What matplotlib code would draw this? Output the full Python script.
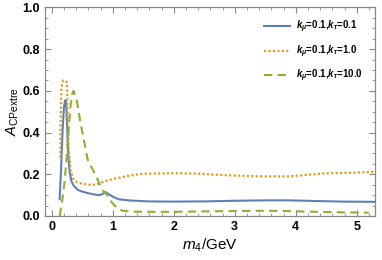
import matplotlib
matplotlib.use("Agg")
import matplotlib.pyplot as plt
from matplotlib.ticker import MultipleLocator

plt.rcParams['font.family'] = ['Liberation Sans', 'DejaVu Sans']
plt.rcParams['mathtext.fontset'] = 'custom'
plt.rcParams['mathtext.rm'] = 'Liberation Sans'
plt.rcParams['mathtext.it'] = 'Liberation Sans:italic'
plt.rcParams['mathtext.bf'] = 'Liberation Sans:bold'
plt.rcParams['mathtext.bfit'] = 'Liberation Sans:italic:bold'

# series 1: k_mu=0.1, k_tau=0.1
x_blue = [0.13, 0.15, 0.18, 0.20, 0.22, 0.235, 0.25, 0.27, 0.29, 0.32, 0.36, 0.43, 0.5, 0.59,
          0.7, 0.78, 0.83, 0.88, 0.93, 1.0, 1.1, 1.3, 1.6, 2.0, 2.5, 3.0, 3.5, 3.9, 4.3, 4.8, 5.3]
y_blue = [0.08, 0.2, 0.42, 0.52, 0.555, 0.55, 0.45, 0.3, 0.22, 0.17, 0.145, 0.125, 0.117, 0.11,
          0.103, 0.1, 0.105, 0.115, 0.105, 0.093, 0.08, 0.074, 0.07, 0.069, 0.07, 0.073, 0.075,
          0.075, 0.072, 0.069, 0.068]

# series 2: k_mu=0.1, k_tau=1.0
x_orange = [0.14, 0.145, 0.16, 0.19, 0.22, 0.25, 0.26, 0.28, 0.31, 0.35, 0.42, 0.5, 0.6, 0.7,
            0.78, 0.85, 0.92, 1.0, 1.14, 1.3, 1.5, 2.0, 2.4, 2.9, 3.4, 3.9, 4.2, 4.5, 5.0, 5.3]
y_orange = [0.28, 0.45, 0.62, 0.65, 0.65, 0.64, 0.5, 0.32, 0.22, 0.18, 0.16, 0.155, 0.15, 0.15,
            0.155, 0.165, 0.17, 0.178, 0.185, 0.195, 0.203, 0.205, 0.203, 0.195, 0.19, 0.19,
            0.198, 0.205, 0.208, 0.212]

# series 3: k_mu=0.1, k_tau=10.0
x_green = [0.13, 0.17, 0.21, 0.25, 0.28, 0.31, 0.34, 0.36, 0.41, 0.47, 0.53, 0.59, 0.66, 0.73,
           0.79, 0.84, 0.9, 0.96, 1.03, 1.1, 1.17, 1.3, 1.6, 2.0, 2.5, 3.0, 3.5, 3.8, 4.2, 4.7, 5.2]
y_green = [0.0, 0.07, 0.16, 0.3, 0.42, 0.53, 0.59, 0.6, 0.556, 0.45, 0.36, 0.27, 0.23, 0.19,
           0.15, 0.122, 0.105, 0.075, 0.05, 0.032, 0.025, 0.021, 0.02, 0.02, 0.022, 0.024, 0.025,
           0.024, 0.021, 0.018, 0.016]

labels = [r"$\mathbfit{k}_{\mathbfit{\mu}}$=0.1,$\mathbfit{k}_{\mathbfit{\tau}}$=0.1",
          r"$\mathbfit{k}_{\mathbfit{\mu}}$=0.1,$\mathbfit{k}_{\mathbfit{\tau}}$=1.0",
          r"$\mathbfit{k}_{\mathbfit{\mu}}$=0.1,$\mathbfit{k}_{\mathbfit{\tau}}$=10.0"]

fig = plt.figure(figsize=(3.82, 2.6), dpi=100)
ax = fig.add_axes([45/382, 44/260, 330/382, 208.5/260])

ax.plot(x_blue, y_blue, color='#5E81B5', lw=1.5, label=labels[0])
ax.plot(x_orange, y_orange, color='#E19C24', lw=1.6, linestyle=(0, (1, 1.0)), label=labels[1])
ax.plot(x_green, y_green, color='#8FB032', lw=1.5, linestyle=(0, (4, 2.5)), label=labels[2])

ax.set_xlim(-0.11, 5.3)
ax.set_ylim(0, 1.0)
ax.xaxis.set_major_locator(MultipleLocator(1))
ax.xaxis.set_minor_locator(MultipleLocator(0.2))
ax.yaxis.set_major_locator(MultipleLocator(0.2))
ax.yaxis.set_minor_locator(MultipleLocator(0.05))
ax.set_yticks([0, 0.2, 0.4, 0.6, 0.8, 1.0])
ax.set_yticklabels(["0.0", "0.2", "0.4", "0.6", "0.8", "1.0"])
ax.tick_params(which='both', direction='in', color='#888888', top=True, right=True,
               labeltop=False, labelright=False)
ax.tick_params(which='major', length=4, width=0.8, labelsize=9)
ax.tick_params(which='minor', length=2, width=0.6)
for lab in ax.get_xticklabels() + ax.get_yticklabels():
    lab.set_fontweight('bold')
for s in ax.spines.values():
    s.set_color('#888888')
    s.set_linewidth(0.9)

ax.set_xlabel(r"$m_4$/GeV", fontsize=11, labelpad=3)
ax.set_ylabel(r"$A_{\mathrm{CPextre}}$", fontsize=10.5, labelpad=1)

leg = ax.legend(loc='upper right', frameon=False, fontsize=7, handlelength=2.7,
                labelspacing=0.85, borderaxespad=0.0, handletextpad=0.6,
                bbox_to_anchor=(0.975, 0.965))
for t in leg.get_texts():
    t.set_fontweight('bold')

fig.savefig("out.png", dpi=100)
